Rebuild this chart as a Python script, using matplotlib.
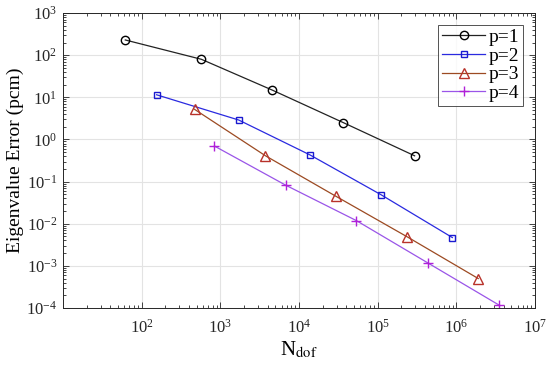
import numpy as np
import matplotlib
matplotlib.use('Agg')
import matplotlib.pyplot as plt
from matplotlib.ticker import LogLocator, NullFormatter

plt.rcParams['font.family'] = ['Liberation Serif', 'DejaVu Serif']
plt.rcParams['mathtext.fontset'] = 'stix'

# values
ndof_p1 = [62, 575, 4600, 36800, 295000]
err_p1 = [230, 80, 14.8, 2.5, 0.41]
ndof_p2 = [155, 1710, 13800, 110000, 890000]
err_p2 = [11.5, 2.9, 0.43, 0.049, 0.0047]
ndof_p3 = [470, 3750, 29400, 237000, 1.9e6]
err_p3 = [5.2, 0.41, 0.045, 0.0049, 0.0005]
ndof_p4 = [840, 6800, 53500, 436000, 3.5e6]
err_p4 = [0.70, 0.082, 0.0119, 0.00117, 0.000117]
labels = ['p=1', 'p=2', 'p=3', 'p=4']

fig = plt.figure(figsize=(5.5, 3.74), dpi=100)
ax = fig.add_axes([0.1145, 0.1765, 0.8582, 0.7885])

ax.plot(ndof_p1, err_p1, '-o', color='#222222', lw=0.9, ms=6,
        mfc='none', mec='black', mew=1.0, label=labels[0])
ax.plot(ndof_p2, err_p2, '-s', color='#2a2ae0', lw=0.9, ms=5,
        mfc='none', mec='#1a1ad0', mew=1.0, label=labels[1])
ax.plot(ndof_p3, err_p3, '-^', color='#9c4a22', lw=0.9, ms=7,
        mfc='none', mec='#b8322a', mew=1.0, label=labels[2])
ax.plot(ndof_p4, err_p4, '-+', color='#9a55e8', lw=0.9, ms=7,
        mec='#b020d8', mew=1.0, label=labels[3])

ax.set_xscale('log')
ax.set_yscale('log')
ax.set_xlim(1e1, 1e7)
ax.set_ylim(1e-4, 1e3)
ax.set_xticks([1e2, 1e3, 1e4, 1e5, 1e6, 1e7])
ax.set_yticks([10.0 ** k for k in range(-4, 4)])
ax.xaxis.set_minor_locator(LogLocator(base=10, subs=np.arange(2, 10), numticks=20))
ax.yaxis.set_minor_locator(LogLocator(base=10, subs=np.arange(2, 10), numticks=20))
ax.xaxis.set_minor_formatter(NullFormatter())
ax.yaxis.set_minor_formatter(NullFormatter())

ax.grid(True, which='major', color='#e3e3e3', lw=0.8)
ax.set_axisbelow(True)
ax.tick_params(which='both', direction='in', top=True, right=True,
               labelsize=12, colors='#262626', width=0.6)
ax.tick_params(axis='y', which='major', length=4, pad=4)
ax.tick_params(axis='x', which='major', length=4, pad=8)
ax.tick_params(which='minor', length=2)
for s in ax.spines.values():
    s.set_color('#262626')
    s.set_linewidth(0.7)

ax.set_xlabel(r'N$_{\mathrm{dof}}$', fontsize=15, labelpad=2)
ax.set_ylabel('Eigenvalue Error (pcm)', fontsize=14)
ax.yaxis.set_label_coords(-0.083, 0.5)

leg = ax.legend(loc='upper right', fontsize=14, frameon=True, fancybox=False,
                edgecolor='#262626', handlelength=2.2, borderpad=0.2,
                labelspacing=0.05, handletextpad=0.2, borderaxespad=0.6)
leg.get_frame().set_linewidth(0.7)

fig.savefig('out.png', dpi=100)
